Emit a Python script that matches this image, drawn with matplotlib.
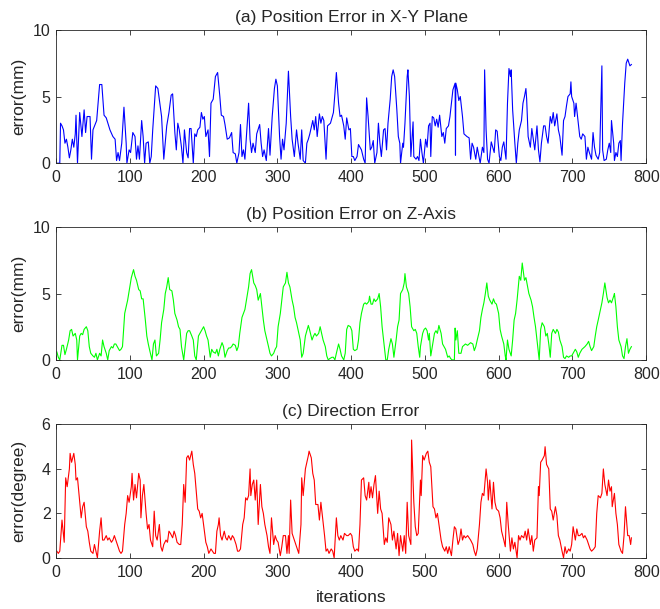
import numpy as np
import matplotlib.pyplot as plt

plt.rcParams['font.family'] = ['Liberation Sans', 'DejaVu Sans']

# (iteration, error) pairs

# (a) position error in the X-Y plane, mm
xy_points = [
    (0, 0), (5, 0), (6, 3.0), (8, 2.8), (10, 2.5), (12, 1.5), (14, 1.8), (16, 1.2), (18, 0.4),
    (20, 1.0), (22, 1.8), (24, 1.2), (26, 2.2), (27, 3.6), (29, 0), (32, 3.8), (35, 2.0),
    (38, 4.0), (40, 2.3), (42, 3.5), (46, 3.5), (48, 0.3), (50, 2.5), (55, 3.2), (59, 5.9),
    (62, 5.9), (65, 3.6), (68, 3.4), (73, 2.5), (77, 2.0), (80, 1.8), (82, 0.2), (84, 0.8),
    (86, 0.2), (89, 1.5), (92, 4.2), (95, 1.5), (96, 0), (99, 1.0), (101, 0.8), (104, 2.3),
    (107, 2.0), (109, 0.3), (111, 1.3), (113, 0.3), (116, 3.2), (118, 2.0), (120, 0), (122, 1.5),
    (125, 1.6), (127, 0), (129, 0.5), (131, 2.5), (135, 5.8), (138, 5.6), (143, 3.5), (146, 0.3),
    (150, 2.8), (153, 3.8), (156, 5.1), (158, 5.2), (161, 2.3), (163, 1.0), (165, 3.0), (167, 2.5),
    (170, 1.2), (172, 0), (174, 2.5), (177, 0.8), (179, 0.4), (181, 2.6), (183, 2.6), (186, 0),
    (188, 2.2), (190, 2.0), (192, 2.5), (195, 2.7), (197, 3.8), (199, 3.3), (201, 3.5), (203, 2.0),
    (206, 2.5), (208, 0.5), (210, 4.5), (213, 4.8), (216, 6.5), (219, 6.8), (222, 5.0), (224, 3.6),
    (227, 3.5), (229, 2.9), (232, 1.8), (235, 1.9), (238, 2.3), (240, 0.8), (243, 0.7), (245, 0),
    (248, 0.8), (250, 2.9), (252, 0.5), (254, 1.0), (256, 0.3), (258, 2.0), (261, 4.5), (263, 1.8),
    (265, 0.8), (267, 1.5), (270, 0.8), (272, 2.2), (276, 2.9), (278, 1.5), (280, 0.5), (282, 1.0),
    (285, 0.2), (288, 2.6), (290, 0.6), (293, 3.5), (296, 5.6), (298, 6.3), (300, 5.8), (303, 2.0),
    (305, 0.3), (307, 1.8), (309, 1.0), (312, 3.0), (315, 6.9), (318, 3.5), (320, 1.8), (323, 0.5),
    (326, 2.5), (328, 1.5), (331, 0.3), (333, 2.5), (335, 0.2), (338, 0), (340, 1.5), (342, 1.8),
    (344, 2.2), (348, 3.2), (350, 2.5), (352, 3.5), (354, 2.0), (357, 3.7), (359, 3.0), (361, 3.5),
    (363, 3.2), (366, 0.3), (368, 2.8), (372, 3.0), (376, 3.8), (378, 5.2), (380, 6.8), (383, 4.5),
    (385, 3.5), (387, 3.6), (390, 2.8), (392, 1.8), (394, 3.4), (397, 2.5), (399, 2.6), (401, 0.5),
    (403, 0.5), (405, 0.2), (408, 0.5), (410, 1.4), (412, 1.2), (414, 1.0), (417, 0.3), (419, 0),
    (421, 4.9), (423, 3.5), (426, 1.0), (428, 1.2), (430, 1.7), (432, 0), (435, 0.8), (437, 3.0),
    (439, 1.5), (441, 0.5), (444, 2.5), (446, 2.6), (448, 1.0), (450, 3.0), (453, 4.8), (455, 6.5),
    (457, 7.0), (459, 6.5), (462, 4.0), (464, 2.0), (466, 1.5), (467, 0), (470, 1.5), (471, 1.2),
    (473, 3.0), (476, 6.5), (477, 7.0), (479, 5.0), (481, 0.5), (484, 3.1), (485, 0.5), (488, 0.3),
    (490, 0.5), (492, 0.2), (494, 1.8), (496, 0.8), (498, 0), (501, 1.8), (503, 1.2), (505, 2.8),
    (507, 3.0), (508, 0.5), (510, 3.5), (512, 3.4), (514, 2.8), (516, 3.3), (518, 2.7), (520, 3.6),
    (523, 2.0), (525, 2.3), (527, 1.5), (529, 2.6), (532, 2.8), (534, 3.5), (536, 4.5), (538, 5.5),
    (541, 6.0), (541.5, 0.6), (542, 6.0), (544, 5.5), (546, 4.7), (548, 5.0), (551, 3.5), (553, 2.2),
    (555, 2.1), (557, 2.0), (560, 1.9), (562, 0.3), (564, 1.5), (566, 1.2), (569, 0.3), (571, 1.2),
    (573, 0.6), (575, 0), (578, 1.2), (580, 0.8), (581, 7.0), (583, 2.5), (585, 0.3), (587, 0),
    (590, 1.6), (592, 1.2), (594, 0.8), (596, 2.5), (598, 2.4), (601, 0.5), (603, 0.2), (605, 1.2),
    (607, 1.6), (610, 0.3), (612, 4.5), (614, 7.1), (616, 6.5), (617, 7.0), (619, 4.0), (622, 1.5),
    (624, 0), (626, 1.5), (628, 2.5), (631, 3.2), (633, 4.5), (635, 5.0), (637, 5.6), (638, 4.8),
    (640, 2.0), (643, 1.2), (645, 2.6), (647, 1.8), (649, 1.0), (652, 2.8), (654, 1.0), (656, 0.1),
    (658, 1.5), (661, 2.8), (663, 2.8), (665, 2.0), (667, 1.5), (670, 3.5), (672, 3.0), (674, 3.8),
    (676, 2.8), (679, 3.7), (681, 2.5), (683, 2.0), (686, 0.6), (688, 3.2), (690, 3.5), (692, 4.3),
    (694, 5.0), (697, 5.2), (698, 6.1), (699, 5.0), (702, 4.5), (703, 3.5), (705, 4.5), (708, 3.0),
    (710, 2.0), (712, 1.8), (714, 2.2), (717, 2.0), (719, 0.3), (721, 1.2), (723, 0.8), (726, 0.3),
    (728, 2.3), (730, 1.2), (732, 0.6), (735, 0.3), (737, 0.8), (740, 7.3), (741, 1.0), (743, 0.2),
    (746, 0.3), (748, 1.0), (750, 1.5), (752, 0.8), (753, 3.2), (756, 1.5), (757, 0.2), (759, 0.8),
    (761, 0.5), (763, 1.5), (765, 1.7), (766, 0.2), (768, 3.0), (771, 6.0), (773, 7.5), (775, 7.8),
    (778, 7.3), (780, 7.4),
]

# (b) position error on the Z axis, mm
z_points = [
    (1, 0.6), (3, 0.2), (5, 0), (8, 1.1), (10, 1.1), (12, 0.4), (14, 0.8), (17, 1.5), (19, 2.2),
    (21, 2.3), (23, 1.8), (26, 2.0), (28, 1.5), (29, 0), (32, 1.8), (34, 2.0), (36, 1.9), (38, 2.3),
    (41, 2.5), (43, 2.2), (45, 1.0), (47, 0.5), (50, 0.3), (52, 0.2), (54, 0.5), (56, 0), (59, 0.5),
    (61, 0.3), (63, 1.5), (65, 1.0), (68, 0.5), (70, 0), (72, 0.7), (75, 1.0), (77, 0.9), (79, 1.2),
    (81, 1.2), (84, 0.9), (86, 0.7), (88, 0.8), (90, 1.0), (93, 3.5), (95, 4.0), (97, 4.5),
    (99, 5.2), (102, 6.2), (105, 6.8), (107, 6.3), (109, 6.0), (112, 5.3), (114, 5.2), (116, 4.6),
    (118, 4.6), (121, 3.0), (123, 1.8), (125, 1.2), (127, 0.7), (130, 0), (132, 1.2), (134, 1.5),
    (136, 0.3), (139, 0.5), (141, 1.5), (143, 2.8), (146, 3.8), (148, 5.0), (150, 5.5), (152, 6.2),
    (154, 5.3), (157, 5.2), (159, 4.5), (161, 3.5), (164, 3.0), (166, 2.5), (168, 2.3), (170, 1.0),
    (173, 0), (175, 1.0), (177, 2.0), (179, 2.2), (181, 2.2), (184, 1.8), (186, 1.5), (188, 0.3),
    (190, 0), (193, 1.8), (195, 2.0), (197, 2.2), (200, 2.5), (202, 2.2), (204, 1.8), (206, 1.5),
    (209, 0.2), (211, 0.8), (213, 0.6), (216, 0.5), (218, 0.8), (220, 0.3), (222, 0.8), (225, 1.3),
    (227, 1.0), (229, 0.2), (232, 0.7), (234, 0.9), (236, 0.9), (238, 1.0), (240, 1.2), (243, 1.1),
    (245, 0.7), (247, 1.0), (249, 2.0), (252, 3.2), (254, 3.5), (256, 3.8), (258, 4.5), (261, 5.5),
    (263, 6.5), (265, 6.8), (268, 5.8), (270, 5.6), (272, 5.3), (274, 4.5), (277, 5.0), (279, 4.0),
    (281, 3.0), (283, 2.2), (286, 1.5), (288, 1.0), (290, 0.5), (292, 0.3), (295, 0.5), (297, 0.8),
    (299, 1.0), (301, 2.5), (304, 3.5), (306, 4.5), (308, 5.5), (311, 5.8), (313, 6.6), (315, 5.8),
    (317, 5.5), (320, 4.5), (322, 4.0), (324, 3.2), (326, 2.8), (329, 2.0), (331, 1.5), (333, 0.2),
    (335, 0.5), (338, 1.8), (340, 2.2), (342, 2.6), (344, 2.2), (347, 1.5), (349, 1.8), (351, 2.0),
    (353, 1.8), (356, 2.0), (358, 2.5), (360, 2.0), (362, 1.5), (365, 1.0), (367, 0.3), (369, 0),
    (371, 0.1), (374, 0.2), (376, 0.2), (378, 0), (380, 0.5), (383, 1.2), (385, 0.8), (387, 0.3),
    (390, 0), (392, 0.5), (394, 2.3), (396, 2.6), (399, 2.5), (401, 2.2), (403, 0.8), (405, 0.7),
    (408, 0.8), (410, 1.5), (412, 2.8), (414, 3.5), (417, 4.2), (419, 4.3), (421, 4.2), (424, 4.4),
    (425, 4.8), (427, 4.2), (429, 4.2), (431, 4.6), (433, 4.4), (436, 4.6), (438, 5.0), (440, 4.0),
    (442, 2.5), (445, 1.0), (447, 0), (449, 0), (451, 0.8), (454, 1.6), (456, 1.2), (458, 0.2),
    (461, 1.5), (463, 2.5), (465, 3.0), (467, 5.0), (470, 5.3), (472, 5.8), (473, 6.5), (475, 5.5),
    (478, 5.0), (480, 4.0), (482, 2.5), (485, 2.2), (487, 2.3), (489, 2.0), (491, 1.0), (493, 0.2),
    (494, 1.0), (497, 2.0), (499, 2.3), (501, 2.4), (503, 2.2), (505, 1.5), (506, 2.0), (508, 0.3),
    (510, 1.0), (513, 2.0), (515, 2.2), (517, 2.0), (519, 2.6), (522, 2.0), (524, 1.2), (526, 1.0),
    (528, 0.8), (531, 0.2), (533, 0.3), (535, 0.1), (537, 0), (540, 0), (541, 2.4), (542, 1.5),
    (544, 2.2), (546, 0.5), (549, 0.5), (551, 1.0), (553, 1.1), (555, 1.2), (558, 1.1), (560, 1.2),
    (562, 1.3), (565, 1.2), (567, 0.7), (569, 1.0), (571, 1.5), (574, 2.2), (576, 3.2), (578, 3.8),
    (580, 4.3), (582, 5.0), (584, 5.8), (586, 4.8), (588, 4.5), (591, 4.2), (593, 4.6), (595, 4.3),
    (597, 4.2), (600, 3.5), (602, 2.3), (604, 1.8), (607, 1.2), (609, 0.3), (610, 0), (612, 1.5),
    (614, 0.8), (617, 0.3), (619, 1.5), (621, 3.0), (623, 3.5), (625, 4.5), (628, 6.3), (630, 6.0),
    (632, 7.3), (635, 6.0), (637, 6.2), (639, 5.6), (641, 5.0), (644, 4.5), (646, 4.0), (648, 3.2),
    (650, 2.5), (653, 1.0), (655, 0), (657, 2.3), (659, 2.8), (662, 2.5), (664, 1.8), (666, 2.0),
    (668, 1.2), (670, 0.2), (672, 2.0), (674, 2.3), (677, 2.0), (679, 2.3), (681, 2.1), (683, 1.5),
    (686, 1.0), (688, 0.2), (690, 0.1), (692, 0.3), (695, 0.2), (697, 0.3), (699, 0.3), (701, 0.5),
    (704, 0.8), (706, 0.6), (708, 0.2), (710, 0.5), (713, 0.8), (715, 0.9), (717, 1.0), (720, 1.2),
    (722, 1.4), (724, 1.0), (726, 0.7), (729, 1.0), (731, 1.8), (733, 2.5), (735, 3.0), (738, 3.8),
    (740, 4.3), (742, 5.0), (744, 5.8), (747, 4.7), (749, 4.3), (751, 4.5), (753, 4.3), (756, 4.8),
    (757, 5.0), (759, 4.0), (761, 2.5), (763, 1.5), (766, 1.0), (768, 0.3), (770, 0.1), (772, 1.0),
    (774, 1.6), (776, 0.5), (778, 0.8), (780, 1.0),
]

# (c) direction error, degree
dir_points = [
    (1, 0.3), (3, 0.2), (5, 0.3), (8, 1.7), (10, 1.0), (11, 0.7), (13, 3.6), (15, 3.2), (18, 4.0),
    (19, 4.7), (21, 4.3), (24, 4.7), (26, 4.2), (27, 3.5), (29, 3.6), (32, 2.5), (34, 1.8),
    (36, 2.3), (38, 2.5), (41, 1.4), (43, 1.2), (45, 0.7), (47, 0.3), (50, 0.2), (52, 0.6),
    (54, 0.3), (56, 0), (59, 1.2), (61, 1.8), (63, 0.8), (65, 0.8), (68, 1.0), (70, 0.8), (72, 0.9),
    (75, 0.7), (77, 0.8), (79, 1.0), (81, 0.8), (84, 0.5), (86, 0.3), (88, 0.2), (90, 0.3),
    (93, 1.5), (95, 2.0), (97, 2.8), (99, 2.5), (102, 3.2), (103, 3.8), (105, 2.6), (107, 3.3),
    (109, 2.7), (112, 3.8), (114, 3.5), (115, 1.8), (117, 2.8), (119, 3.3), (122, 2.0), (124, 1.3),
    (126, 1.5), (128, 0.8), (131, 0.5), (133, 2.1), (135, 1.0), (137, 0.8), (140, 1.5), (142, 0.5),
    (144, 0.3), (146, 0.6), (149, 0.8), (151, 0.7), (153, 1.2), (155, 1.1), (158, 0.9), (160, 1.2),
    (162, 1.0), (164, 0.7), (167, 0.6), (169, 0.6), (171, 1.5), (173, 3.3), (175, 2.5), (177, 4.5),
    (179, 4.6), (181, 4.4), (184, 4.8), (186, 4.2), (188, 3.8), (190, 3.0), (192, 2.2), (194, 2.1),
    (196, 1.8), (198, 2.0), (201, 1.2), (203, 0.7), (205, 0.5), (207, 0.2), (210, 0.4), (212, 0.3),
    (214, 0.2), (216, 0.2), (218, 1.2), (220, 1.5), (221, 1.8), (223, 1.0), (225, 0.8), (228, 1.2),
    (230, 0.9), (232, 0.8), (234, 1.0), (237, 0.8), (239, 1.0), (241, 0.9), (244, 0.6), (246, 0.3),
    (248, 0.3), (250, 0.4), (253, 1.5), (255, 1.8), (257, 2.7), (259, 2.6), (261, 2.8), (263, 4.0),
    (264, 2.8), (266, 3.3), (268, 3.5), (270, 2.6), (272, 3.5), (274, 1.5), (277, 3.3), (279, 2.3),
    (281, 2.0), (283, 1.5), (286, 1.0), (288, 0.5), (290, 0.2), (292, 1.8), (295, 0.6), (297, 1.0),
    (299, 0.8), (301, 0.7), (304, 0.1), (306, 0.5), (308, 1.0), (311, 1.0), (313, 0.2), (315, 1.0),
    (316, 0.2), (318, 2.6), (320, 1.1), (323, 0.8), (325, 0.6), (327, 0.4), (329, 0.2), (332, 1.5),
    (333, 3.6), (335, 2.8), (338, 4.0), (340, 4.3), (342, 4.6), (343, 4.8), (346, 4.5), (348, 3.8),
    (350, 3.5), (352, 2.4), (355, 2.4), (357, 1.7), (359, 2.5), (361, 1.9), (364, 1.0), (366, 0.3),
    (368, 0.4), (370, 0.2), (373, 0.4), (375, 0.3), (377, 0.0), (380, 1.8), (382, 1.0), (384, 0.8),
    (386, 1.0), (389, 0.8), (391, 1.1), (394, 1.0), (396, 1.0), (399, 1.1), (401, 1.0), (403, 0.5),
    (405, 0.3), (408, 0.4), (410, 0.3), (412, 1.5), (414, 3.5), (417, 3.6), (419, 2.8), (421, 2.6),
    (424, 3.4), (425, 2.7), (427, 3.2), (429, 2.7), (431, 3.3), (433, 3.7), (436, 2.0), (438, 3.0),
    (440, 2.2), (442, 2.0), (445, 0.6), (447, 0.9), (449, 0.7), (451, 1.8), (454, 1.5), (456, 0.8),
    (458, 1.2), (461, 0.4), (463, 1.1), (465, 0.1), (467, 1.0), (470, 0.3), (472, 1.0), (474, 0.2),
    (476, 2.5), (478, 1.0), (481, 0.6), (482, 5.3), (485, 2.5), (487, 1.4), (489, 1.0), (491, 1.1),
    (494, 3.5), (495, 2.8), (497, 4.6), (499, 4.4), (502, 4.7), (504, 4.8), (506, 4.3), (508, 4.1),
    (511, 2.3), (513, 2.2), (515, 1.8), (517, 2.0), (520, 1.3), (522, 0.8), (524, 0.5), (527, 0.3),
    (529, 0.5), (531, 0.2), (533, 0.5), (536, 0.1), (538, 0.8), (540, 1.4), (542, 1.3), (545, 0.6),
    (547, 0.8), (549, 1.3), (551, 0.8), (553, 1.0), (555, 0.9), (558, 1.0), (560, 0.9), (562, 0.8),
    (565, 0.6), (567, 0.3), (569, 0.1), (571, 0.4), (574, 1.5), (576, 2.5), (578, 2.9), (580, 2.8),
    (583, 4.0), (585, 3.4), (586, 2.6), (588, 3.5), (591, 2.2), (593, 3.4), (595, 2.5), (597, 2.2),
    (600, 2.1), (602, 1.8), (604, 1.2), (607, 0.8), (609, 0.5), (611, 2.5), (613, 1.5), (616, 0.3),
    (618, 0.9), (620, 0.4), (622, 0.7), (625, 0.0), (627, 1.0), (629, 0.8), (631, 1.0), (634, 0.9),
    (636, 1.2), (638, 0.8), (640, 1.3), (643, 0.6), (645, 1.0), (647, 0.3), (649, 0.8), (652, 0.9),
    (654, 3.2), (655, 2.8), (657, 4.3), (659, 4.4), (662, 4.6), (663, 5.0), (665, 4.2), (668, 4.0),
    (670, 2.2), (672, 2.1), (674, 1.7), (677, 2.3), (679, 1.9), (681, 1.0), (683, 0.8), (686, 0.3),
    (688, 0.0), (690, 0.5), (692, 0.2), (695, 0.4), (697, 0.3), (699, 0.6), (701, 1.4), (704, 0.8),
    (706, 1.3), (708, 1.0), (710, 1.0), (713, 1.1), (715, 0.9), (717, 1.0), (720, 0.8), (722, 0.6),
    (724, 0.4), (726, 0.3), (729, 0.4), (731, 0.5), (733, 2.0), (735, 2.8), (738, 2.7), (740, 2.9),
    (742, 4.0), (744, 3.3), (747, 2.8), (749, 3.5), (751, 3.0), (753, 3.2), (754, 2.3), (757, 2.9),
    (759, 2.0), (761, 1.5), (763, 0.6), (766, 0.3), (768, 0.2), (770, 1.0), (772, 2.3), (775, 1.0),
    (777, 1.0), (779, 0.6), (780, 0.9),
]

titles = ['(a) Position Error in X-Y Plane', '(b) Position Error on Z-Axis', '(c) Direction Error']
ylabels = ['error(mm)', 'error(mm)', 'error(degree)']
ymaxes = [10, 10, 6]
yticks = [[0, 5, 10], [0, 5, 10], [0, 2, 4, 6]]
colors = ['#0000ff', '#00ff00', '#ff0000']
series = [xy_points, z_points, dir_points]

ink = '#262626'
fig = plt.figure(figsize=(6.6, 6.09), dpi=100)
boxes = [[0.085, 0.732, 0.894, 0.219],
         [0.085, 0.409, 0.894, 0.218],
         [0.085, 0.084, 0.894, 0.219]]

for i in range(3):
    ax = fig.add_axes(boxes[i])
    x, y = zip(*series[i])
    ax.plot(x, y, color=colors[i], lw=0.8)
    ax.set_xlim(0, 800)
    ax.set_ylim(0, ymaxes[i])
    ax.set_xticks(np.arange(0, 801, 100))
    ax.set_yticks(yticks[i])
    ax.tick_params(direction='in', top=True, right=True, length=3.5, width=0.6,
                   labelsize=11.5, colors=ink, pad=4)
    ax.tick_params(axis='x', pad=5)
    for s in ax.spines.values():
        s.set_color(ink)
        s.set_linewidth(0.6)
    ax.set_title(titles[i], fontsize=12.5, color=ink, pad=6)
    ax.set_ylabel(ylabels[i], fontsize=12.5, color=ink, va='center')
    ax.yaxis.set_label_coords(-0.064, 0.5)
    if i == 2:
        ax.set_xlabel('iterations', fontsize=12.5, color=ink, va='center')
        ax.xaxis.set_label_coords(0.5, -0.30)

plt.savefig('out.png', dpi=100)
